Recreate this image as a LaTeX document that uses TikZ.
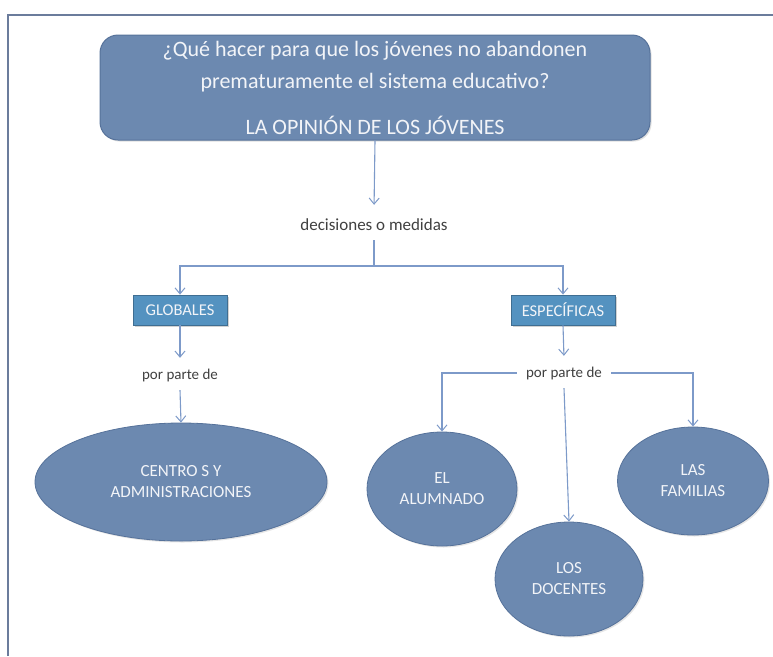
\documentclass[tikz,border=0pt]{standalone}
\usepackage{fontspec}
\setmainfont{Carlito}
\usetikzlibrary{arrows.meta,shadows,shapes.geometric}
\definecolor{framec}{HTML}{6B7C9C}
\definecolor{fillc}{HTML}{6C89B0}
\definecolor{borderc}{HTML}{56729A}
\definecolor{rectc}{HTML}{5492C0}
\definecolor{rectb}{HTML}{3F6E92}
\definecolor{linec}{HTML}{7D9AC9}
\definecolor{txtc}{HTML}{404040}
\definecolor{wtxt}{HTML}{F2F4F8}
\tikzset{
  topbox/.style={draw=borderc, line width=1pt, fill=fillc, rounded corners=18pt,
    minimum width=550pt, minimum height=105pt, align=center, text=wtxt,
    font=\fontsize{22}{32}\selectfont, inner sep=0pt,
    drop shadow={opacity=0.25, shadow xshift=1.5pt, shadow yshift=-1.5pt}},
  catbox/.style={draw=rectb, line width=0.8pt, fill=rectc, text=wtxt,
    minimum height=30pt, inner sep=0pt, font=\fontsize{16.5}{18}\selectfont,
    drop shadow={opacity=0.35, shadow xshift=2pt, shadow yshift=-2pt}},
  oval/.style={ellipse, draw=borderc, line width=0.8pt, fill=fillc, text=wtxt,
    align=center, inner sep=0pt, font=\fontsize{17}{21}\selectfont,
    drop shadow={opacity=0.2, shadow xshift=1.5pt, shadow yshift=-1.5pt}},
  lbl/.style={text=txtc, inner sep=0pt, minimum height=30pt},
  arr/.style={draw=linec, line width=1.1pt, -{Straight Barb[length=6pt,width=10pt,line width=1pt]}},
  ln/.style={draw=linec, line width=1.1pt}
}
\begin{document}
\begin{tikzpicture}[x=1pt,y=-1pt]
\useasboundingbox (0,0) rectangle (773,656);
\fill[white] (0,0) rectangle (773,656);
% frame
\draw[framec, line width=2pt] (8,656) -- (8,15) -- (773,15);

\node[topbox] (top) at (375,87.5) {¿Qué hacer para que los jóvenes no abandonen\\prematuramente el sistema educativo?\\[14pt]LA OPINIÓN DE LOS JÓVENES};

\node[lbl, font=\fontsize{17}{19}\selectfont] (dec) at (374,225) {decisiones o medidas};
\coordinate (J) at (374,266);

\node[catbox, minimum width=94pt] (glob) at (180,310) {GLOBALES};
\node[catbox, minimum width=104pt] (esp) at (563,310) {ESPECÍFICAS};

\node[lbl, font=\fontsize{15}{17}\selectfont] (por1) at (180,375) {por parte de};
\node[lbl, font=\fontsize{15}{17}\selectfont, inner xsep=9pt] (por2) at (564,373) {por parte de};

\node[oval, minimum width=292pt, minimum height=118pt] (cen) at (181,482) {CENTRO S Y\\ADMINISTRACIONES};
\node[oval, minimum width=150pt, minimum height=114pt] (alu) at (442,489) {EL\\ALUMNADO};
\node[oval, minimum width=148pt, minimum height=114pt] (doc) at (569,579) {LOS\\DOCENTES};
\node[oval, minimum width=151pt, minimum height=108pt] (fam) at (693,481) {LAS\\FAMILIAS};

% connectors
\draw[arr, shorten >=5pt] (top.south) -- (dec.north);
\draw[ln] (dec.south) -- (J);
\draw[arr] (J) -| (glob.north);
\draw[arr] (J) -| (esp.north);
\draw[arr, shorten >=2pt] (glob.south) -- (por1.north);
\draw[arr] (por1.south) -- (cen.north);
\draw[arr, shorten >=2pt] (esp.south) -- (por2.north);
\draw[arr] (por2.west) -| (alu.north);
\draw[arr] (por2.east) -| (fam.north);
\draw[arr] (por2.south) -- (doc.north);
\end{tikzpicture}
\end{document}
